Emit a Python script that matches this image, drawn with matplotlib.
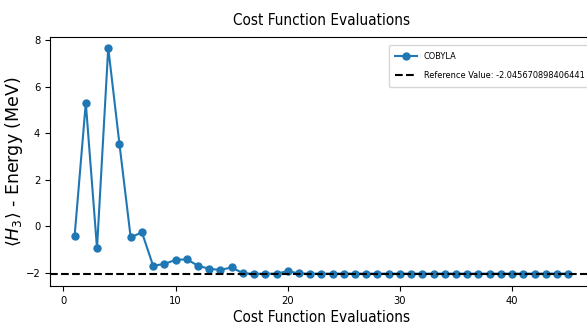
import numpy as np
import matplotlib
matplotlib.use("Agg")
import matplotlib.pyplot as plt

# cost function evaluations
evals = list(range(1, 46))
energy = [-0.45, 5.30, -0.96, 7.67, 3.53, -0.49, -0.27, -1.71, -1.63, -1.46,
          -1.43, -1.71, -1.84, -1.89, -1.78, -2.03, -2.06, -2.05, -2.05, -1.94,
          -2.04, -2.05, -2.05, -2.05, -2.05, -2.05, -2.05, -2.05, -2.05, -2.05,
          -2.05, -2.05, -2.05, -2.05, -2.05, -2.05, -2.05, -2.05, -2.05, -2.05,
          -2.05, -2.05, -2.05, -2.05, -2.05]
ref_value = -2.045670898406441

narrow = dict(family="DejaVu Sans", stretch="condensed")

fig = plt.figure(figsize=(5.87, 3.31), dpi=100)
ax = fig.add_axes([0.085, 0.136, 0.925, 0.752])

ax.plot(evals, energy, marker="o", markersize=5, color="tab:blue", label="COBYLA")
ax.axhline(ref_value, color="black", linestyle="--", linewidth=1.5,
           label=f"Reference Value: {ref_value}")

ax.set_xlim(-1.2, 47.2)
ax.set_ylim(-2.58, 8.13)
ax.set_xticks([0, 10, 20, 30, 40])
ax.set_yticks([-2, 0, 2, 4, 6, 8])
ax.tick_params(labelsize=8)
for lbl in ax.get_xticklabels() + ax.get_yticklabels():
    lbl.set_fontstretch("condensed")

ax.set_title("Cost Function Evaluations", fontsize=11, pad=9, **narrow)
ax.set_xlabel("Cost Function Evaluations", fontsize=11, labelpad=3, **narrow)
ax.set_ylabel(r"$\langle H_3 \rangle$ - Energy (MeV)", fontsize=12.5)
ax.yaxis.set_label_coords(-0.046, 0.5)

leg = ax.legend(loc="upper right", bbox_to_anchor=(1.006, 0.985),
                prop=dict(size=6.6, **narrow),
                labelspacing=1.05, borderpad=0.75, handlelength=2.4,
                handletextpad=0.7)

fig.savefig("out.png", dpi=100)
